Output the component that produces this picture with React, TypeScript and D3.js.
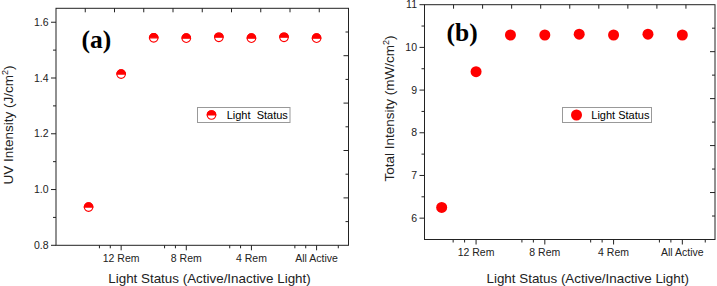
import React from "react";
import * as d3 from "d3";

// ---------- data ----------
const statusIndex = [0, 1, 2, 3, 4, 5, 6, 7];
const uvIntensity = [0.937, 1.414, 1.544, 1.543, 1.546, 1.543, 1.546, 1.543];
const totalIntensity = [6.25, 9.43, 10.29, 10.29, 10.31, 10.29, 10.31, 10.29];
const xTickValues = [1, 3, 5, 7];
const xTickLabels = ["12 Rem", "8 Rem", "4 Rem", "All Active"];
const uvTicks = [0.8, 1.0, 1.2, 1.4, 1.6];
const uvMinorTicks = [0.9, 1.1, 1.3, 1.5];
const totalTicks = [6, 7, 8, 9, 10, 11];
const totalMinorTicks = [6.5, 7.5, 8.5, 9.5, 10.5];

const SANS = "Arial, 'Liberation Sans', Helvetica, sans-serif";
const SERIF = "'Times New Roman', 'Liberation Serif', serif";
const RED = "#ff0000";

type PanelProps = {
  left: number; right: number; top: number; bottom: number;
  xDomain: [number, number]; yDomain: [number, number];
  values: number[]; yTicks: number[]; yMinor: number[];
  yFmt: (v: number) => string;
  yTickX: number;
  yTitle: string; yTitleX: number; yTitleY: number;
  xTitleX: number;
  tag: string; tagX: number; tagY: number;
  half: boolean; r: number;
  legend: { x1: number; x2: number; y1: number; y2: number; mx: number; tx: number; label: string };
};

function Marker({ cx, cy, r, half }: { cx: number; cy: number; r: number; half: boolean }) {
  if (!half) return <circle cx={cx} cy={cy} r={r} fill={RED} />;
  const arc = d3.arc()({ innerRadius: 0, outerRadius: r, startAngle: -Math.PI / 2, endAngle: Math.PI / 2 } as any) as string;
  return (
    <g transform={`translate(${cx},${cy})`}>
      <circle r={r} fill="#fff" stroke={RED} strokeWidth={1.1} />
      <path d={arc} fill={RED} stroke={RED} strokeWidth={1.1} />
    </g>
  );
}

function Panel(p: PanelProps) {
  const x = d3.scaleLinear().domain(p.xDomain).range([p.left, p.right]);
  const y = d3.scaleLinear().domain(p.yDomain).range([p.bottom, p.top]);
  const xMinor: number[] = [];
  xTickValues.forEach((t) => { xMinor.push(t - 2 / 3, t - 1 / 3); });
  xMinor.push(xTickValues[xTickValues.length - 1] + 2 / 3);
  const w = p.right - p.left, h = p.bottom - p.top;
  const topTicks = d3.range(1, 10).map((k) => p.left + (w * k) / 10);
  const rightTicks = d3.range(1, 10).map((k) => p.top + (h * k) / 10);
  const axisColor = "#222";
  return (
    <g>
      {/* frame */}
      <rect x={p.left} y={p.top} width={w} height={h} fill="none" stroke={axisColor} strokeWidth={1} />
      {/* left ticks */}
      {p.yTicks.map((t) => (
        <g key={"yt" + t}>
          <line x1={p.left - 5} x2={p.left} y1={y(t)} y2={y(t)} stroke={axisColor} />
          <text x={p.yTickX} y={y(t)} dy="0.35em" textAnchor="end" fontFamily={SANS} fontSize={10.5} fill="#222">
            {p.yFmt(t)}
          </text>
        </g>
      ))}
      {p.yMinor.map((t) => (
        <line key={"ym" + t} x1={p.left - 3} x2={p.left} y1={y(t)} y2={y(t)} stroke={axisColor} />
      ))}
      {/* bottom ticks */}
      {xTickValues.map((t, i) => (
        <g key={"xt" + t}>
          <line x1={x(t)} x2={x(t)} y1={p.bottom} y2={p.bottom + 5} stroke={axisColor} />
          <text x={x(t)} y={p.bottom + 16.7} textAnchor="middle" fontFamily={SANS} fontSize={10.5} fill="#222">
            {xTickLabels[i]}
          </text>
        </g>
      ))}
      {xMinor.map((t) => (
        <line key={"xm" + t} x1={x(t)} x2={x(t)} y1={p.bottom} y2={p.bottom + 3} stroke={axisColor} />
      ))}
      {/* top & right mirror ticks */}
      {topTicks.map((tx, k) => (
        <line key={"tt" + k} x1={tx} x2={tx} y1={p.top} y2={p.top + 4} stroke={axisColor} />
      ))}
      {rightTicks.map((ty, k) => (
        <line key={"rt" + k} x1={p.right - (k % 2 === 1 ? 5 : 3)} x2={p.right} y1={ty} y2={ty} stroke={axisColor} />
      ))}
      {/* titles */}
      <text transform={`translate(${p.yTitleX},${p.yTitleY}) rotate(-90)`} textAnchor="middle" fontFamily={SANS} fontSize={13.5} fill="#222">
        {p.yTitle}
        <tspan dy="-5" fontSize={9}>2</tspan>
        <tspan dy="5">)</tspan>
      </text>
      <text x={p.xTitleX} y={282.5} textAnchor="middle" fontFamily={SANS} fontSize={13.4} fill="#222">
        Light Status (Active/Inactive Light)
      </text>
      <text x={p.tagX} y={p.tagY} fontFamily={SERIF} fontWeight="bold" fontSize={25.5} fill="#000">
        {p.tag}
      </text>
      {/* points */}
      {statusIndex.map((s, i) => (
        <Marker key={"pt" + i} cx={x(s)} cy={y(p.values[i])} r={p.r} half={p.half} />
      ))}
      {/* legend */}
      <rect x={p.legend.x1} y={p.legend.y1} width={p.legend.x2 - p.legend.x1} height={p.legend.y2 - p.legend.y1} fill="#fff" stroke="#999" strokeWidth={1} />
      <Marker cx={p.legend.mx} cy={(p.legend.y1 + p.legend.y2) / 2} r={p.r} half={p.half} />
      <text x={p.legend.tx} y={(p.legend.y1 + p.legend.y2) / 2} dy="0.36em" fontFamily={SANS} fontSize={11} fill="#000" style={{ whiteSpace: "pre" }}>
        {p.legend.label}
      </text>
    </g>
  );
}

export default function App() {
  return (
    <svg width={717} height={286} style={{ position: "absolute", left: 0, top: 0, background: "#fff" }}>
      <rect width={717} height={286} fill="#fff" />
      <Panel
        left={56} right={348.5} top={8.3} bottom={245.3}
        xDomain={[-1, 7.98]} yDomain={[0.8, 1.65]}
        values={uvIntensity} yTicks={uvTicks} yMinor={uvMinorTicks}
        yFmt={(v) => d3.format(".1f")(v)} yTickX={48.5}
        yTitle="UV Intensity (J/cm" yTitleX={13} yTitleY={125}
        xTitleX={209.5}
        tag="(a)" tagX={81.5} tagY={47.5}
        half={true} r={4.3}
        legend={{ x1: 197.5, x2: 290, y1: 107.5, y2: 122.5, mx: 211.5, tx: 226.7, label: "Light  Status" }}
      />
      <Panel
        left={424.5} right={715} top={4.7} bottom={239.5}
        xDomain={[-0.5, 7.95]} yDomain={[5.5, 11]}
        values={totalIntensity} yTicks={totalTicks} yMinor={totalMinorTicks}
        yFmt={(v) => d3.format("d")(v)} yTickX={417}
        yTitle="Total Intensity (mW/cm" yTitleX={394} yTitleY={108.5}
        xTitleX={587.7}
        tag="(b)" tagX={446.5} tagY={40.5}
        half={false} r={5.5}
        legend={{ x1: 562.5, x2: 651.5, y1: 107.5, y2: 122.5, mx: 576.5, tx: 591.3, label: "Light Status" }}
      />
    </svg>
  );
}
